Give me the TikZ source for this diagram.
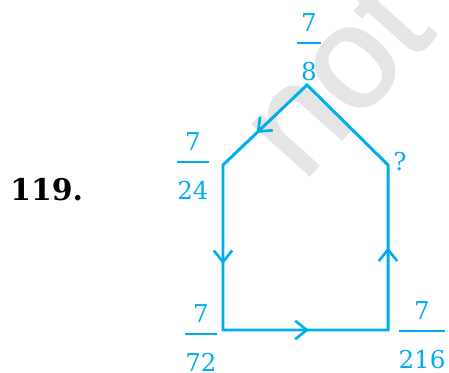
\documentclass[tikz,border=0pt]{standalone}
\usepackage{amsmath}
\usepackage{fontspec}
\usetikzlibrary{arrows.meta, decorations.markings}
\definecolor{procyan}{RGB}{0,174,239}
\definecolor{wmgray}{RGB}{229,229,229}
\newfontfamily\wmfont[FakeBold=1.6]{Liberation Sans}
\newfontfamily\labfont{DejaVu Serif}
\newcommand{\numfr}[2]{$\displaystyle\genfrac{}{}{1.1pt}{0}{\hspace{2.3pt}\text{#1}\hspace{2.3pt}}{\rule{0pt}{17.6pt}\text{#2}}$}
\tikzset{
  pathline/.style={draw=procyan, line width=1.7pt, miter limit=10},
  flowtip/.style={postaction={decorate}, decoration={markings,
    mark=at position #1 with {\arrow[procyan, line width=1.5pt]{Straight Barb[length=6.5pt,width=10.5pt]}}}},
  fraclabel/.style={text=procyan, font=\labfont\fontsize{14}{17}\selectfont, inner sep=0pt, anchor=base},
  qnum/.style={font=\labfont\bfseries\fontsize{17}{20}\selectfont, inner sep=0pt, anchor=base west},
  watermark/.style={text=wmgray, font=\wmfont\fontsize{82}{90}\selectfont, rotate=48, anchor=base, inner sep=0pt}
}
\begin{document}
\begin{tikzpicture}[x=0.02cm, y=-0.02cm]
  \useasboundingbox (0,0) rectangle (449,372);
  \node[watermark] (wm) at (370,108) {not};
  % corners of the pentagon
  \coordinate (apex) at (307,85);
  \coordinate (ul) at (223,165);
  \coordinate (ur) at (388,165);
  \coordinate (ll) at (223,330);
  \coordinate (lr) at (388,330);
  \draw[pathline] (apex) -- (ul) -- (ll) -- (lr) -- (ur) -- cycle;
  \path[flowtip=0.6] (apex) -- (ul);
  \path[flowtip=0.6] (ul) -- (ll);
  \path[flowtip=0.52] (ll) -- (lr);
  \path[flowtip=0.5] (lr) -- (ur);
  % labels (base = bar + 3.5pt)
  \node[fraclabel] (lapex) at (309,49) {\numfr{7}{8}};
  \node[fraclabel] (lul) at (193,168) {\numfr{7}{24}};
  \node[fraclabel] (lll) at (201,340) {\numfr{7}{72}};
  \node[fraclabel] (llr) at (422,337) {\numfr{7}{216}};
  \node[fraclabel] (lur) at (400,170) {?};
  \node[qnum] (qno) at (10,200) {119.};
\end{tikzpicture}
\end{document}
